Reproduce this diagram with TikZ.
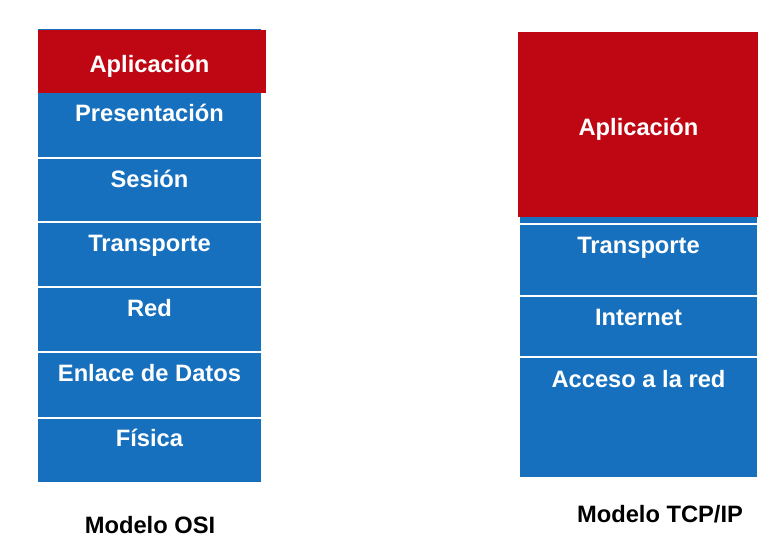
\documentclass[tikz,border=0pt]{standalone}
\usepackage{fontspec}
\setmainfont{Liberation Sans}
\definecolor{layerred}{HTML}{BE0713}
\definecolor{layerblue}{HTML}{1770BD}
\begin{document}
\begin{tikzpicture}[x=0.5pt,y=-0.5pt,
  box/.style={inner sep=0pt, outer sep=0pt, anchor=north west},
  redbox/.style={box, fill=layerred},
  bluebox/.style={box, fill=layerblue},
  sepline/.style={draw=white, line width=1pt},
  lbl/.style={anchor=base, text=white, font=\bfseries\fontsize{11.85}{14}\selectfont, inner sep=0pt},
  caption/.style={anchor=base, text=black, font=\bfseries\fontsize{11.85}{14}\selectfont, inner sep=0pt}]
\useasboundingbox (0,0) rectangle (780,549);
\fill[white] (0,0) rectangle (780,549);

% OSI model stack
\node[bluebox, minimum width=111.5pt, minimum height=226.5pt] (osiback) at (38,29) {};
\node[redbox, minimum width=114pt, minimum height=31.5pt] (osi1) at (38,30) {};
\node[bluebox, minimum width=111.5pt, minimum height=32.5pt] (osi2) at (38,93) {};
\node[bluebox, minimum width=111.5pt, minimum height=32pt] (osi3) at (38,158) {};
\node[bluebox, minimum width=111.5pt, minimum height=32.5pt] (osi4) at (38,222) {};
\node[bluebox, minimum width=111.5pt, minimum height=32.5pt] (osi5) at (38,287) {};
\node[bluebox, minimum width=111.5pt, minimum height=33pt] (osi6) at (38,352) {};
\node[bluebox, minimum width=111.5pt, minimum height=32pt] (osi7) at (38,418) {};
\foreach \n in {osi3,osi4,osi5,osi6,osi7}
  \draw[sepline] (\n.north west) -- (\n.north east);

\node[lbl] at ([yshift=-21.5pt]osi2.north |- osi1.north) {Aplicación};
\node[lbl] at ([yshift=-14.5pt]osi2.north) {Presentación};
\node[lbl] at ([yshift=-15pt]osi3.north) {Sesión};
\node[lbl] at ([yshift=-15pt]osi4.north) {Transporte};
\node[lbl] at ([yshift=-15pt]osi5.north) {Red};
\node[lbl] at ([yshift=-14.5pt]osi6.north) {Enlace de Datos};
\node[lbl] at ([yshift=-14pt]osi7.north) {Física};
\node[caption] (osicap) at (150,533) {Modelo OSI};

% TCP/IP model stack
\node[bluebox, minimum width=118.5pt, minimum height=130pt] (tcpback) at (520,217) {};
\node[redbox, minimum width=120pt, minimum height=92.5pt] (tcp1) at (518,32) {};
\node[bluebox, minimum width=118.5pt, minimum height=36pt] (tcp2) at (520,224) {};
\node[bluebox, minimum width=118.5pt, minimum height=30.5pt] (tcp3) at (520,296) {};
\node[bluebox, minimum width=118.5pt, minimum height=60pt] (tcp4) at (520,357) {};
\foreach \n in {tcp2,tcp3,tcp4}
  \draw[sepline] (\n.north west) -- (\n.north east);

\node[lbl] at ([yshift=-52pt]tcp2.north |- tcp1.north) {Aplicación};
\node[lbl] at ([yshift=-15pt]tcp2.north) {Transporte};
\node[lbl] at ([yshift=-15pt]tcp3.north) {Internet};
\node[lbl] at ([yshift=-15pt]tcp4.north) {Acceso a la red};
\node[caption] (tcpcap) at (660,522) {Modelo TCP/IP};
\end{tikzpicture}
\end{document}
